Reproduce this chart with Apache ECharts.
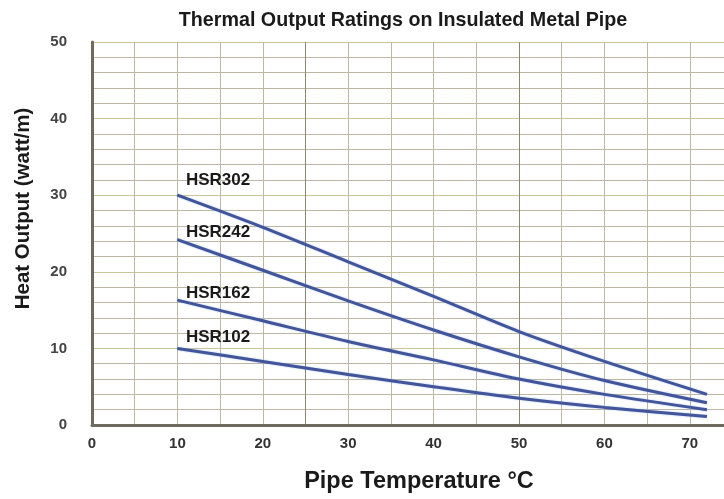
<!DOCTYPE html>
<html>
<head>
<meta charset="utf-8">
<script src="https://cdn.jsdelivr.net/npm/echarts@6/dist/echarts.min.js"></script>
<style>
html,body{margin:0;padding:0;background:#fff;}
#chart{width:724px;height:499px;}
</style>
</head>
<body>
<div id="chart"></div>
<script>
var temps = [10, 20, 30, 40, 50, 60, 72];
var hsr302 = [30.0, 25.8, 21.3, 16.8, 12.2, 8.3, 4.0];
var hsr242 = [24.2, 20.2, 16.2, 12.4, 8.9, 5.8, 2.9];
var hsr162 = [16.3, 13.6, 10.9, 8.5, 6.0, 4.0, 2.0];
var hsr102 = [10.0, 8.3, 6.6, 5.0, 3.5, 2.3, 1.1];
var seriesNames = ['HSR302', 'HSR242', 'HSR162', 'HSR102'];
var seriesValues = [hsr302, hsr242, hsr162, hsr102];
var labelOffsets = [[0, -15], [0, -7], [0, -7], [0, -11]];

var chart = echarts.init(document.getElementById('chart'));
var fontFam = '"Liberation Sans", Arial, sans-serif';
var lineCol = '#42559a';

var series = seriesNames.map(function (name, i) {
  var data = temps.map(function (t, j) {
    var item = { value: [t, seriesValues[i][j]] };
    if (j === 0) {
      item.symbol = 'circle';
      item.symbolSize = 1;
      item.label = {
        show: true,
        position: 'right',
        distance: 8,
        offset: labelOffsets[i],
        formatter: name,
        fontFamily: fontFam,
        fontWeight: 'bold',
        fontSize: 17,
        color: '#1a1a1a'
      };
    }
    return item;
  });
  return {
    name: name,
    type: 'line',
    smooth: 0.3,
    symbol: 'none',
    showSymbol: true,
    itemStyle: { color: lineCol },
    data: data,
    lineStyle: { color: lineCol, width: 3, shadowColor: 'rgba(120,160,230,0.6)', shadowBlur: 2 },
    z: 5
  };
});

var minorCol = '#bdb8a6';
var majorCol = '#8a8572';

chart.setOption({
  backgroundColor: '#ffffff',
  animation: false,
  title: {
    text: 'Thermal Output Ratings on Insulated Metal Pipe',
    left: 398,
    textAlign: 'center',
    top: 6,
    textStyle: { fontFamily: fontFam, fontWeight: 'bold', fontSize: 19.7, color: '#1a1a1a' }
  },
  grid: { left: 92, right: 0, top: 42, bottom: 68, containLabel: false },
  xAxis: {
    type: 'value',
    min: 0,
    max: 74,
    interval: 5,
    name: 'Pipe Temperature °C',
    nameLocation: 'middle',
    nameGap: 45,
    nameTextStyle: { fontFamily: fontFam, fontWeight: 'bold', fontSize: 23.5, color: '#1a1a1a', padding: [0, 0, 0, 22] },
    axisLine: { show: true, lineStyle: { color: '#6e6b5e', width: 3 } },
    axisTick: { show: false },
    axisLabel: {
      margin: 11,
      fontFamily: fontFam, fontWeight: 'bold', fontSize: 15, color: '#333',
      showMaxLabel: false,
      formatter: function (v) { return v % 10 === 0 ? String(v) : ''; }
    },
    splitLine: { show: true, lineStyle: { color: [majorCol, minorCol, minorCol, minorCol, minorCol], width: 1 } }
  },
  yAxis: {
    type: 'value',
    min: 0,
    max: 50,
    interval: 2,
    name: 'Heat Output (watt/m)',
    nameLocation: 'middle',
    nameGap: 58,
    nameTextStyle: { fontFamily: fontFam, fontWeight: 'bold', fontSize: 20.5, color: '#1a1a1a', padding: [0, 0, 0, 50] },
    axisLine: { show: true, lineStyle: { color: '#6e6b5e', width: 3 } },
    axisTick: { show: false },
    axisLabel: {
      margin: 25,
      fontFamily: fontFam, fontWeight: 'bold', fontSize: 15, color: '#444',
      formatter: function (v) { return v % 10 === 0 ? String(v) : ''; }
    },
    splitLine: { show: true, lineStyle: { color: ['#c9c49a', minorCol, minorCol, minorCol, minorCol], width: 1 } }
  },
  series: series
});
</script>
</body>
</html>
